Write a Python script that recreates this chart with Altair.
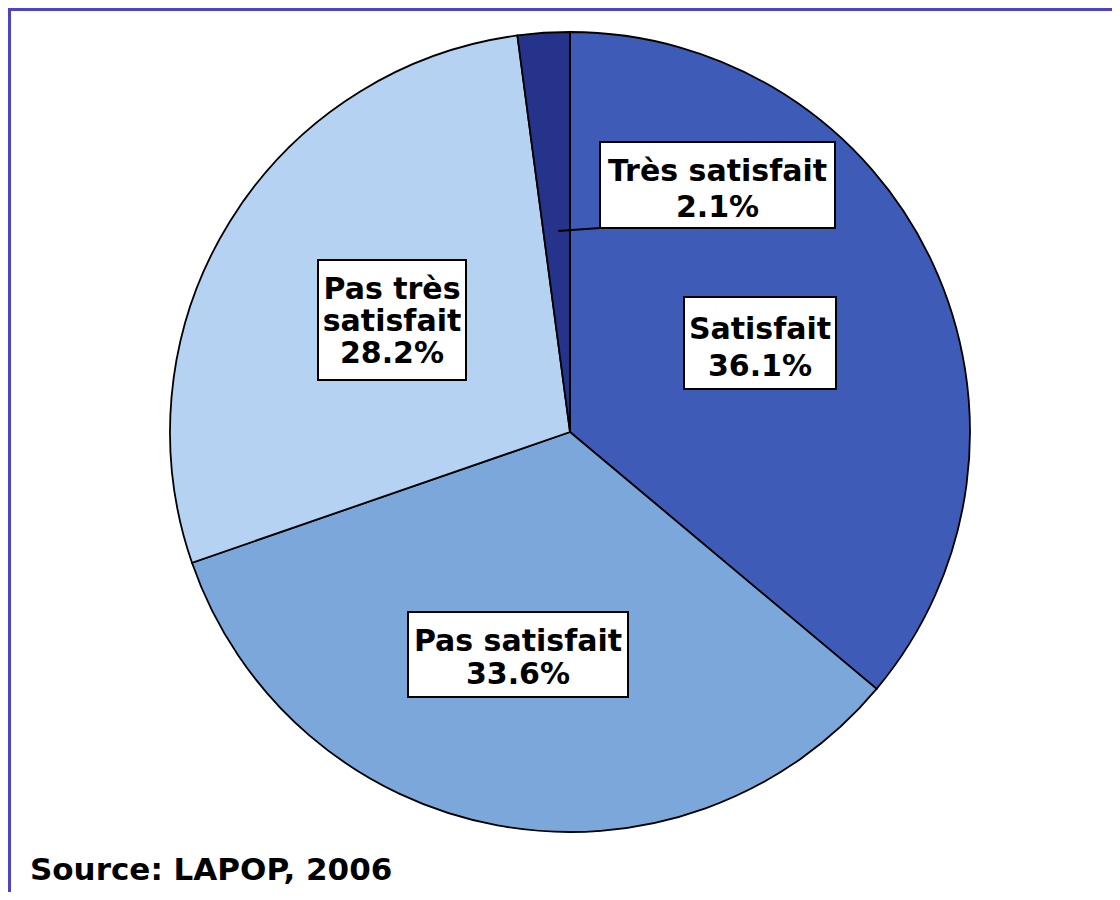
import altair as alt
import pandas as pd

categories = ["Satisfait", "Pas satisfait", "Pas très satisfait", "Très satisfait"]
values = [36.1, 33.6, 28.2, 2.1]
label_lines = [["Satisfait", "36.1%"], ["Pas satisfait", "33.6%"], ["Pas très", "satisfait", "28.2%"], ["Très satisfait", "2.1%"]]
colors = ["#3e5bb7", "#7ca7db", "#b5d2f2", "#25348a"]

# label box layout (chart pixel coords)
box_x = [676, 400, 310, 592]
box_x2 = [828, 620, 458, 827]
box_y = [289, 604, 252, 134]
box_y2 = [381, 689, 372, 220]
line_gap = [37, 33, 32, 36]
line_shift = [5, 4, 2, 5]

pie_df = pd.DataFrame({"cat": categories, "value": values, "idx": list(range(len(categories)))})
box_df = pd.DataFrame({"cat": categories, "x": box_x, "x2": box_x2, "y": box_y, "y2": box_y2})

rows = []
for i, lines in enumerate(label_lines):
    cx = (box_x[i] + box_x2[i]) / 2
    cy = (box_y[i] + box_y2[i]) / 2
    n = len(lines)
    for j, t in enumerate(lines):
        rows.append({"text": t, "cx": cx, "cy": cy + (j - (n - 1) / 2) * line_gap[i] + line_shift[i]})
txt_df = pd.DataFrame(rows)

W, H = 1104, 884

pie = alt.Chart(pie_df).mark_arc(outerRadius=400, stroke="black", strokeWidth=1.8).encode(
    theta=alt.Theta("value:Q", stack=True),
    color=alt.Color("cat:N", scale=alt.Scale(domain=categories, range=colors), legend=None),
    order=alt.Order("idx:Q"),
    x=alt.value(562),
    y=alt.value(424),
)

boxes = alt.Chart(box_df).mark_rect(fill="white", stroke="black", strokeWidth=2).encode(
    x=alt.X("x:Q", scale=None, axis=None),
    x2="x2:Q",
    y=alt.Y("y:Q", scale=None, axis=None),
    y2="y2:Q",
)

texts = alt.Chart(txt_df).mark_text(
    font="DejaVu Sans", fontWeight="bold", fontSize=30,
    align="center", baseline="middle", color="black",
).encode(
    x=alt.X("cx:Q", scale=None, axis=None),
    y=alt.Y("cy:Q", scale=None, axis=None),
    text="text:N",
)

leader = alt.Chart(pd.DataFrame({"a": [0]})).mark_rule(color="black", strokeWidth=2).encode(
    x=alt.value(550), x2=alt.value(592), y=alt.value(223), y2=alt.value(220)
)

source = alt.Chart(pd.DataFrame({"t": ["Source: LAPOP, 2006"]})).mark_text(
    font="DejaVu Sans", fontWeight="bold", fontSize=31, align="left", baseline="alphabetic", color="black",
).encode(text="t:N", x=alt.value(22), y=alt.value(872))

frame_top = alt.Chart(pd.DataFrame({"a": [0]})).mark_rule(color="#4e44bf", strokeWidth=3).encode(
    x=alt.value(0), x2=alt.value(W), y=alt.value(1.5)
)
frame_left = alt.Chart(pd.DataFrame({"a": [0]})).mark_rule(color="#4e44bf", strokeWidth=3).encode(
    x=alt.value(1.5), y=alt.value(0), y2=alt.value(H)
)

chart = alt.layer(pie, leader, boxes, texts, source, frame_top, frame_left).properties(
    width=W, height=H, autosize=alt.AutoSizeParams(type="none"), padding=0,
).configure_view(stroke=None)

chart.save("out.html", embed_options={"renderer": "svg", "actions": False})
